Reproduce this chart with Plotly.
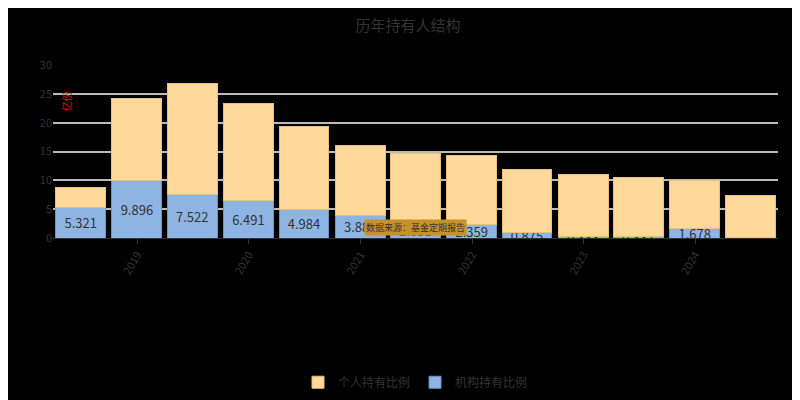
import plotly.graph_objects as go

dates = ["2018-06-30","2018-12-31","2019-06-30","2019-12-31","2020-06-30","2020-12-31",
         "2021-06-30","2021-12-31","2022-06-30","2022-12-31","2023-06-30","2023-12-31","2024-06-30"]
inst = [5.321,9.896,7.522,6.491,4.984,3.882,2.631,2.359,0.875,0.333,0.337,1.678,0.1]
total = [8.8,24.2,26.8,23.4,19.3,16.1,14.6,14.3,11.8,11.0,10.5,9.9,7.4]
indiv = [round(t-i,3) for t,i in zip(total,inst)]

fig = go.Figure()
fig.add_bar(x=dates, y=inst, name="机构持有比例", marker=dict(color="#8eb4e3", line=dict(color="#6f94c4", width=1)),
            text=[f"{v:.3f}" for v in inst], textposition="inside", insidetextanchor="middle",
            textfont=dict(color="#333", size=13), constraintext="none")
fig.add_bar(x=dates, y=indiv, name="个人持有比例", marker=dict(color="#ffd99a", line=dict(color="#e8c17a", width=1)))
fig.update_layout(
    barmode="stack", bargap=0.1, width=800, height=400,
    paper_bgcolor="black", plot_bgcolor="black",
    margin=dict(l=45, r=30, t=57, b=152),
    title=dict(text="历年持有人结构", x=0.5, y=0.97, font=dict(size=15, color="#333", family="Noto Sans CJK SC")),
    font=dict(family="Noto Sans CJK SC", color="#333", size=11),
    legend=dict(orientation="h", x=0.5, xanchor="center", y=-0.75, font=dict(size=12, color="#333")),
    yaxis=dict(range=[0,30], dtick=5, gridcolor="#bbbbbb", gridwidth=2, zeroline=False, tickfont=dict(color="#333")),
    xaxis=dict(tickangle=-60, showline=True, linecolor="#333", ticks="outside", tickcolor="#333", tickfont=dict(color="#333")),
    annotations=[
        dict(text="亿份", x=0.005, y=0.86, xref="paper", yref="paper", showarrow=False, textangle=-90, font=dict(color="red", size=10)),
        dict(text="数据来源：基金定期报告", x=0.5, y=0.01, xref="paper", yref="paper", xanchor="center", yanchor="bottom",
             showarrow=False, bgcolor="#c8922a", font=dict(color="#333", size=9)),
    ],
)
fig.write_html("out.html")
